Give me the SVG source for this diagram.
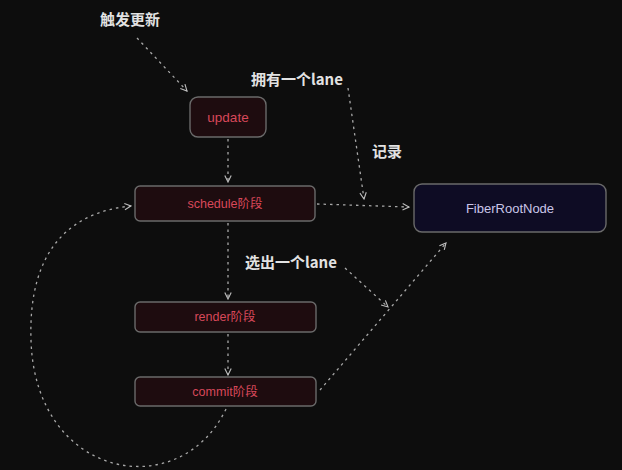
<svg xmlns="http://www.w3.org/2000/svg" width="622" height="470" viewBox="0 0 622 470">
<defs>
<marker id="ah" viewBox="0 0 10 10" refX="9" refY="5" markerWidth="8" markerHeight="8" orient="auto-start-reverse" markerUnits="userSpaceOnUse">
<path d="M1 1 L9 5 L1 9" fill="none" stroke="#bdbdbd" stroke-width="1.4"/>
</marker>
<style>
.edge{fill:none;stroke:#a8a8a8;stroke-width:1.3;stroke-dasharray:2.5 4;marker-end:url(#ah)}
.node{fill:#1e0c0f;stroke:#6a6a6a;stroke-width:1.4}
.blue{fill:#0e0c24;stroke:#6a6a6a;stroke-width:1.4}
.nt{font-family:"Liberation Sans","Noto Sans CJK SC",sans-serif;font-size:12.5px;fill:#d8485a;text-anchor:middle;dominant-baseline:central}
.bt{font-family:"Liberation Sans","Noto Sans CJK SC",sans-serif;font-size:13px;fill:#c9c6e8;text-anchor:middle;dominant-baseline:central}
.lb{font-family:"Noto Sans CJK SC","Liberation Sans",sans-serif;font-size:15px;font-weight:bold;fill:#e2e2e2;dominant-baseline:central}
</style>
</defs>
<rect width="622" height="470" fill="#0d0d0d"/>
<g id="connectors">
<path class="edge" d="M137 38 L187 91"/>
<path class="edge" d="M228 139 L228 182"/>
<path class="edge" d="M317 204 L409 207"/>
<path class="edge" d="M348 88 L364 199"/>
<path class="edge" d="M228 223 L228 299"/>
<path class="edge" d="M228 334 L228 375"/>
<path class="edge" d="M345 268 L388 307"/>
<path class="edge" d="M320 390 L446 243"/>
<path class="edge" d="M226 409 C180 505 35 480 31 340 C28 250 70 212 131 206"/>
</g>
<g id="label-trigger"><text class="lb" x="100" y="18">触发更新</text></g>
<g id="label-own"><text class="lb" x="251" y="78">拥有一个lane</text></g>
<g id="label-record"><text class="lb" x="372" y="150">记录</text></g>
<g id="label-select"><text class="lb" x="245" y="261">选出一个lane</text></g>
<g id="update"><rect class="node" x="190" y="97" width="76" height="40" rx="8"/><text class="nt" x="228" y="117" style="font-size:13.5px">update</text></g>
<g id="schedule"><rect class="node" x="135" y="186" width="180" height="35" rx="5"/><text class="nt" x="225" y="203.5">schedule阶段</text></g>
<g id="render"><rect class="node" x="135" y="302" width="181" height="30" rx="5"/><text class="nt" x="225" y="317">render阶段</text></g>
<g id="commit"><rect class="node" x="135" y="377" width="181" height="29" rx="5"/><text class="nt" x="225" y="391.5">commit阶段</text></g>
<g id="fiberroot"><rect class="blue" x="414" y="184" width="192" height="48" rx="8"/><text class="bt" x="510" y="208">FiberRootNode</text></g>
</svg>
